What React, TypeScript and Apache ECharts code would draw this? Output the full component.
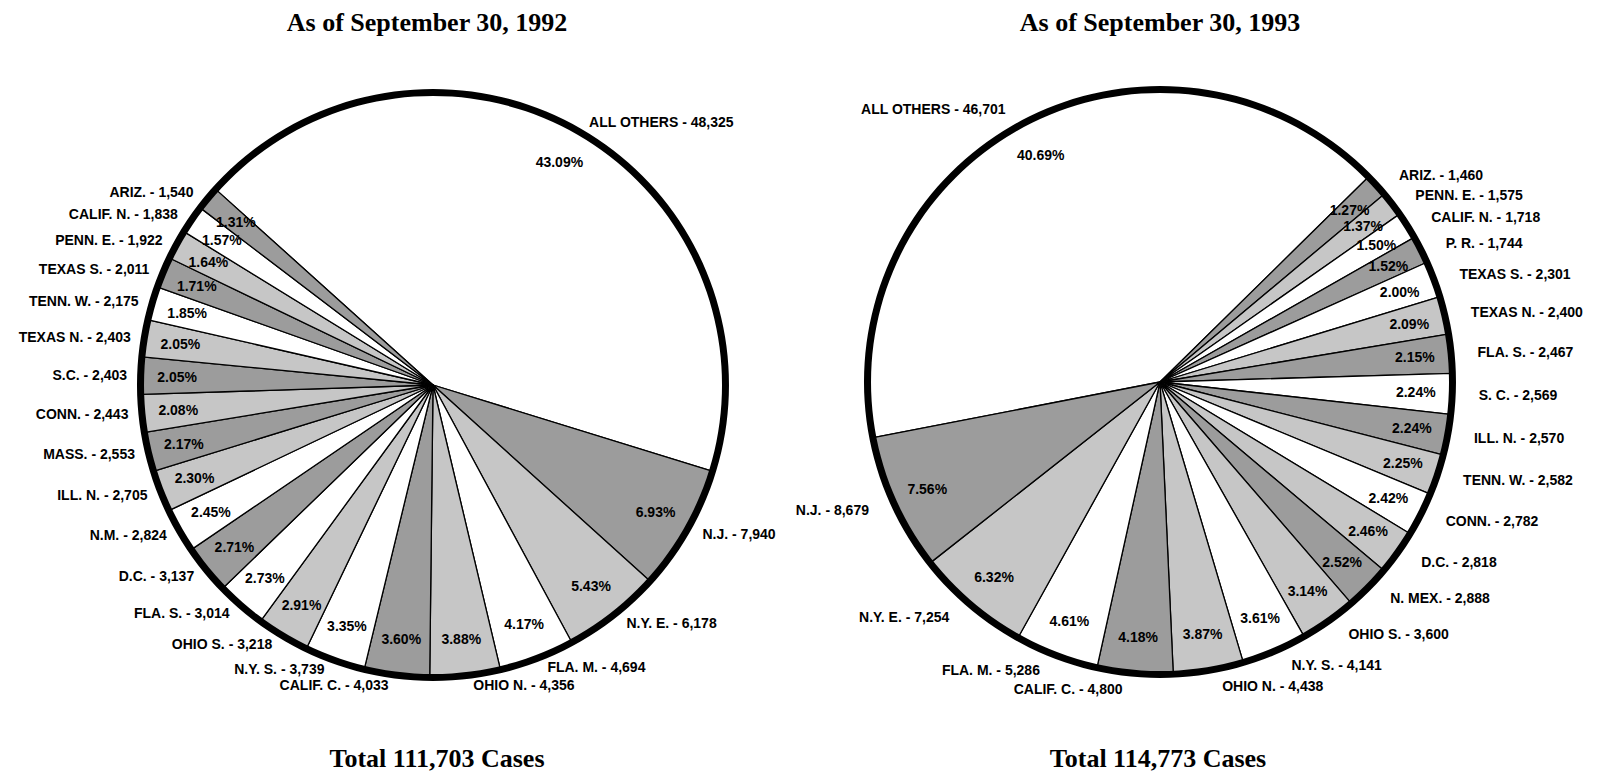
import React, { useEffect, useRef } from "react";
import * as echarts from "echarts";

// ---- 1992 data (clockwise from ALL OTHERS) ----
const names1992 = [
  "ALL OTHERS", "N.J.", "N.Y. E.", "FLA. M.", "OHIO N.", "CALIF. C.", "N.Y. S.", "OHIO S.",
  "FLA. S.", "D.C.", "N.M.", "ILL. N.", "MASS.", "CONN.", "S.C.", "TEXAS N.", "TENN. W.",
  "TEXAS S.", "PENN. E.", "CALIF. N.", "ARIZ.",
];
const cases1992 = [
  48325, 7940, 6178, 4694, 4356, 4033, 3739, 3218, 3014, 3137, 2824, 2705, 2553, 2443, 2403,
  2403, 2175, 2011, 1922, 1838, 1540,
];
const pct1992 = [
  43.09, 6.93, 5.43, 4.17, 3.88, 3.6, 3.35, 2.91, 2.73, 2.71, 2.45, 2.3, 2.17, 2.08, 2.05,
  2.05, 1.85, 1.71, 1.64, 1.57, 1.31,
];
const fills1992 = [
  "white", "dark", "light", "white", "light", "dark", "white", "light", "white", "dark", "white",
  "light", "dark", "light", "dark", "light", "white", "dark", "light", "white", "dark",
];

// ---- 1993 data (clockwise from ALL OTHERS) ----
const names1993 = [
  "ALL OTHERS", "ARIZ.", "PENN. E.", "CALIF. N.", "P. R.", "TEXAS S.", "TEXAS N.", "FLA. S.",
  "S. C.", "ILL. N.", "TENN. W.", "CONN.", "D.C.", "N. MEX.", "OHIO S.", "N.Y. S.", "OHIO N.",
  "CALIF. C.", "FLA. M.", "N.Y. E.", "N.J.",
];
const cases1993 = [
  46701, 1460, 1575, 1718, 1744, 2301, 2400, 2467, 2569, 2570, 2582, 2782, 2818, 2888, 3600,
  4141, 4438, 4800, 5286, 7254, 8679,
];
const pct1993 = [
  40.69, 1.27, 1.37, 1.5, 1.52, 2.0, 2.09, 2.15, 2.24, 2.24, 2.25, 2.42, 2.46, 2.52, 3.14,
  3.61, 3.87, 4.18, 4.61, 6.32, 7.56,
];
const fills1993 = [
  "white", "dark", "light", "white", "dark", "white", "light", "dark", "white", "dark", "light",
  "white", "light", "dark", "light", "white", "light", "dark", "white", "light", "dark",
];

const titles = ["As of September 30, 1992", "As of September 30, 1993"];
const totals = ["Total 111,703 Cases", "Total 114,773 Cases"];

const FILL: Record<string, string> = { white: "#ffffff", light: "#c6c6c6", dark: "#9c9c9c" };
const R = 292;
const LABEL_FONT = "Liberation Sans, Arial, Helvetica, sans-serif";
const SERIF = "Liberation Serif, Times New Roman, serif";

function pieSeries(
  center: number[],
  startAngle: number,
  names: string[],
  pct: number[],
  cases: number[],
  fills: string[],
  len: number,
  len2: number
) {
  const data = names.map((n, i) => ({ name: n, value: pct[i], itemStyle: { color: FILL[fills[i]] } }));
  return [
    {
      type: "pie",
      center,
      radius: [0, R],
      startAngle,
      clockwise: true,
      silent: true,
      avoidLabelOverlap: true,
      data,
      itemStyle: { borderColor: "#000", borderWidth: 1.3 },
      label: {
        show: true,
        position: "outside",
        overflow: "none",
        distanceToLabelLine: 3,
        color: "#000",
        fontFamily: LABEL_FONT,
        fontWeight: "bold",
        fontSize: 14,
        formatter: (p: any) => `${names[p.dataIndex]} - ${cases[p.dataIndex].toLocaleString("en-US")}`,
      },
      labelLine: { show: false, length: len, length2: len2 },
      emphasis: { disabled: true },
    },
    {
      type: "pie",
      center,
      radius: [R - 78, R],
      startAngle,
      clockwise: true,
      silent: true,
      data: names.map((n, i) => ({ name: n, value: pct[i] })),
      itemStyle: { color: "transparent", borderWidth: 0 },
      label: {
        show: true,
        position: "inside",
        color: "#000",
        fontFamily: LABEL_FONT,
        fontWeight: "bold",
        fontSize: 14,
        formatter: (p: any) => `${pct[p.dataIndex].toFixed(2)}%`,
      },
      labelLine: { show: false },
      emphasis: { disabled: true },
    },
    {
      type: "pie",
      center,
      radius: [R - 3, R + 4],
      silent: true,
      data: [{ value: 1, name: "rim" }],
      itemStyle: { color: "#000" },
      label: { show: false },
      labelLine: { show: false },
      emphasis: { disabled: true },
    },
  ];
}

export default function App() {
  const ref = useRef<HTMLDivElement>(null);
  useEffect(() => {
    if (!ref.current) return;
    const chart = echarts.init(ref.current, undefined, { renderer: "svg" });
    const leftC = [433, 385];
    const rightC = [1160, 382];
    const textStyle = (text: string) => ({
      text,
      align: "center",
      verticalAlign: "middle",
      font: `bold 26px ${SERIF}`,
      fill: "#000",
    });
    chart.setOption({
      animation: false,
      backgroundColor: "#fff",
      series: [
        ...pieSeries(leftC, 138, names1992, pct1992, cases1992, fills1992, 10, 4),
        ...pieSeries(rightC, 191, names1993, pct1993, cases1993, fills1993, 16, 8),
      ],
      graphic: [
        { type: "text", x: 427, y: 22, style: textStyle(titles[0]) },
        { type: "text", x: 1160, y: 22, style: textStyle(titles[1]) },
        { type: "text", x: 437, y: 758, style: textStyle(totals[0]) },
        { type: "text", x: 1158, y: 758, style: textStyle(totals[1]) },
      ],
    });
    return () => chart.dispose();
  }, []);
  return (
    <div
      ref={ref}
      style={{ position: "fixed", left: 0, top: 0, width: 1598, height: 776, background: "#fff" }}
    />
  );
}
